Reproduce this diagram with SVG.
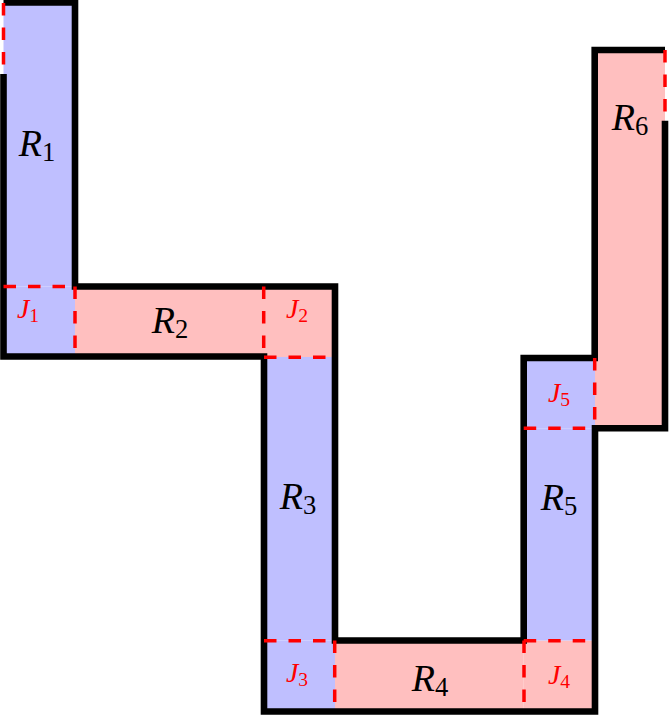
<svg xmlns="http://www.w3.org/2000/svg" width="669" height="716" viewBox="0 0 669 716">
<style>
.blue{fill:#bfbfff}
.pink{fill:#ffbfbf}
.outline{fill:none;stroke:#000;stroke-width:6.6;stroke-linejoin:miter;stroke-linecap:butt}
.dash{fill:none;stroke:#ff0000;stroke-width:3.5;stroke-dasharray:12.5 12}
.rl{font-family:"Liberation Serif",serif;font-size:38px;fill:#000}
.jl{font-family:"Liberation Serif",serif;font-size:28px;fill:#ff0000}
.it{font-style:italic}
.sub{font-size:70%}
</style>
<rect width="669" height="716" fill="#fff"/>
<g id="R1"><rect class="blue" x="3.5" y="2.5" width="71.5" height="284"/>
<text class="rl" x="37" y="156" text-anchor="middle"><tspan class="it">R</tspan><tspan class="sub" dy="5">1</tspan></text></g>
<g id="J1"><rect class="blue" x="3.5" y="286.5" width="71.5" height="70"/>
<text class="jl" x="28" y="318" text-anchor="middle"><tspan class="it">J</tspan><tspan class="sub" dy="4">1</tspan></text></g>
<g id="R2"><rect class="pink" x="75" y="286.5" width="189" height="70"/>
<text class="rl" x="170" y="333" text-anchor="middle"><tspan class="it">R</tspan><tspan class="sub" dy="5">2</tspan></text></g>
<g id="J2"><rect class="pink" x="264" y="286.5" width="71" height="70.5"/>
<text class="jl" x="297" y="318" text-anchor="middle"><tspan class="it">J</tspan><tspan class="sub" dy="4">2</tspan></text></g>
<g id="R3"><rect class="blue" x="264" y="357" width="71" height="283.5"/>
<text class="rl" x="298" y="509" text-anchor="middle"><tspan class="it">R</tspan><tspan class="sub" dy="5">3</tspan></text></g>
<g id="J3"><rect class="blue" x="264" y="640.5" width="71" height="71"/>
<text class="jl" x="297" y="682" text-anchor="middle"><tspan class="it">J</tspan><tspan class="sub" dy="4">3</tspan></text></g>
<g id="R4"><rect class="pink" x="335" y="640.5" width="188.7" height="71"/>
<text class="rl" x="430" y="691" text-anchor="middle"><tspan class="it">R</tspan><tspan class="sub" dy="5">4</tspan></text></g>
<g id="J4"><rect class="pink" x="523.7" y="640.5" width="71.3" height="71"/>
<text class="jl" x="559" y="684" text-anchor="middle"><tspan class="it">J</tspan><tspan class="sub" dy="4">4</tspan></text></g>
<g id="R5"><rect class="blue" x="523.7" y="428.3" width="71.3" height="212.2"/>
<text class="rl" x="559" y="510" text-anchor="middle"><tspan class="it">R</tspan><tspan class="sub" dy="5">5</tspan></text></g>
<g id="J5"><rect class="blue" x="523.7" y="358" width="71.3" height="70.3"/>
<text class="jl" x="559" y="402" text-anchor="middle"><tspan class="it">J</tspan><tspan class="sub" dy="4">5</tspan></text></g>
<g id="R6"><rect class="pink" x="595" y="50" width="70" height="378.3"/>
<text class="rl" x="630" y="130" text-anchor="middle"><tspan class="it">R</tspan><tspan class="sub" dy="5">6</tspan></text></g>
<g id="connectors">
<path class="outline" d="M3.5,74 V356.5 H264 V711.5 H595 V428.3 H665 V120.7"/>
<path class="outline" d="M665,50 H594.7 V358 H523.7 V640.5 H335 V286.5 H75 V2.5 H3.5"/>
<path class="dash" d="M3.5,3 V74"/>
<path class="dash" d="M665,50 V120.7"/>
<path class="dash" d="M3.5,286.5 H75"/>
<path class="dash" d="M75,286.5 V356.5"/>
<path class="dash" d="M263.7,286.5 V357"/>
<path class="dash" d="M264,357.3 H335"/>
<path class="dash" d="M264,640.7 H335"/>
<path class="dash" d="M334.7,640.5 V711.5"/>
<path class="dash" d="M524,640.5 V711.5"/>
<path class="dash" d="M523.7,640.7 H595"/>
<path class="dash" d="M523.7,428.3 H595"/>
<path class="dash" d="M594.7,358 V428.3"/>
</g>
</svg>
